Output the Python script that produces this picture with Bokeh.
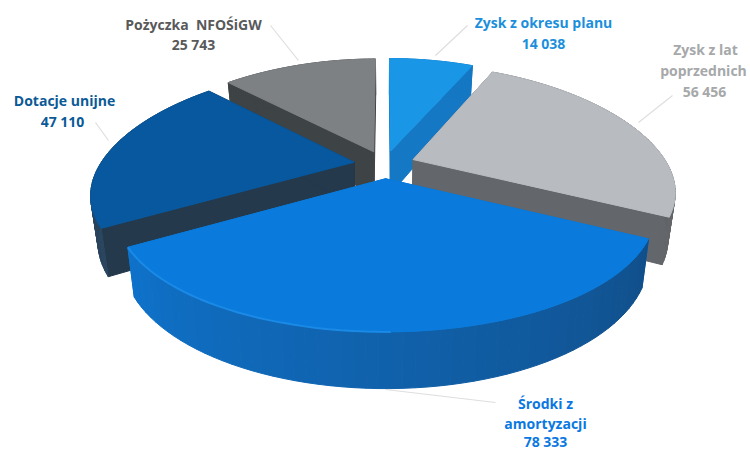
import numpy as np
from bokeh.plotting import figure
from bokeh.models import ColumnDataSource
from bokeh.core.properties import value
from bokeh.embed import file_html
from bokeh.resources import INLINE

names = ["Zysk z okresu planu", "Zysk z lat poprzednich", "Środki z amortyzacji", "Dotacje unijne", "Pożyczka NFOŚiGW"]
values = [14038, 56456, 78333, 47110, 25743]
value_labels = ["14 038", "56 456", "78 333", "47 110", "25 743"]
top_colors = ["#1A96E6", "#B8BCC1", "#0A7BDC", "#07589F", "#7E8184"]
wall_near = ["#1578C4", "#63666A", "#0F72CA", "#24394C", "#3E4346"]
wall_far = ["#1578C4", "#55585B", "#114F8A", "#2B4660", "#3E4346"]
text_colors = ["#1B8FDC", "#A6A8AA", "#0A78E2", "#0B5A96", "#58595B"]
label_rows = [
    [("Zysk z okresu planu", 543, 22), ("14 038", 543, 43)],
    [("Zysk z lat", 705, 49), ("poprzednich", 703, 70), ("56 456", 704, 91)],
    [("Środki z", 545, 403), ("amortyzacji", 545, 423), ("78 333", 545, 441)],
    [("Dotacje unijne", 64, 100), ("47 110", 62, 121)],
    [("Pożyczka\u00a0 NFOŚiGW", 193, 24), ("25 743", 193, 44)],
]
leaders = [
    ([435, 467], [55, 25]),
    ([638, 672], [122, 95]),
    ([385, 495], [389, 402]),
    ([108, 95], [140, 122]),
    ([298, 270], [60, 25]),
]

CX, CY, A, B, K, EXPLODE, THICK, SHRINK, SAG = 384, 164, 258, 116, 0.2, 0.12, 44, 0.975, 6


def project(X, Y, down=False):
    w = 1 / (1 - K * Y)
    sx = CX + A * X * w
    sy = CY + B * Y * w + SAG * np.asarray(X) ** 2
    if down:
        sx = CX + (sx - CX) * SHRINK
        sy = sy + THICK * w
    return sx, sy


def mix(c1, c2, t):
    a = [int(c1[i:i + 2], 16) for i in (1, 3, 5)]
    b = [int(c2[i:i + 2], 16) for i in (1, 3, 5)]
    return "#%02x%02x%02x" % tuple(int(round(u + (v - u) * t)) for u, v in zip(a, b))


total = sum(values)
fracs = np.array(values) / total * 2 * np.pi
ends = np.cumsum(fracs)
starts = ends - fracs

p = figure(width=750, height=450, x_range=(0, 750), y_range=(450, 0),
           toolbar_location=None, output_backend="svg", min_border=0)
p.axis.visible = False
p.grid.visible = False
p.outline_line_color = None

for lx, ly in leaders:
    p.line(lx, ly, line_color="#DEDEDE", line_width=1.2)

order = [0, 4, 3, 1, 2]
for i in order:
    mid = (starts[i] + ends[i]) / 2
    ox, oy = EXPLODE * np.sin(mid), -EXPLODE * np.cos(mid)
    th = np.linspace(starts[i], ends[i], 60)
    X = ox + np.sin(th)
    Y = oy - np.cos(th)
    xs, ys, cols = [], [], []
    for t in (0, -1):
        a0 = project(ox, oy)
        a1 = project(X[t], Y[t])
        b0 = project(ox, oy, True)
        b1 = project(X[t], Y[t], True)
        xs.append([a0[0], a1[0], b1[0], b0[0]])
        ys.append([a0[1], a1[1], b1[1], b0[1]])
        cols.append(wall_near[i])
    for j in range(len(th) - 1):
        a0 = project(X[j], Y[j])
        a1 = project(X[j + 1], Y[j + 1])
        b0 = project(X[j], Y[j], True)
        b1 = project(X[j + 1], Y[j + 1], True)
        xs.append([a0[0], a1[0], b1[0], b0[0]])
        ys.append([a0[1], a1[1], b1[1], b0[1]])
        cols.append(mix(wall_far[i], wall_near[i], j / (len(th) - 2)))
    tx, ty = project(np.r_[ox, X], np.r_[oy, Y])
    xs.append(list(tx))
    ys.append(list(ty))
    cols.append(top_colors[i])
    p.patches(xs, ys, fill_color=cols, line_color=cols, line_width=1)
    if i == 2:
        rx, ry = project(X[30:], Y[30:])
        p.line(rx, ry, line_color="#1A8AE6", line_width=2)

tx, ty, tt, tc = [], [], [], []
for i, rows in enumerate(label_rows):
    for text, x, y in rows:
        tx.append(x)
        ty.append(y)
        tt.append(text)
        tc.append(text_colors[i])
src = ColumnDataSource(dict(x=tx, y=ty, t=tt, c=tc))
p.text("x", "y", text="t", source=src, text_color="c", text_align="center", text_baseline="middle",
       text_font=value("Open Sans"), text_font_size="14px", text_font_style="bold")

open("out.html", "w").write(file_html(p, INLINE))
